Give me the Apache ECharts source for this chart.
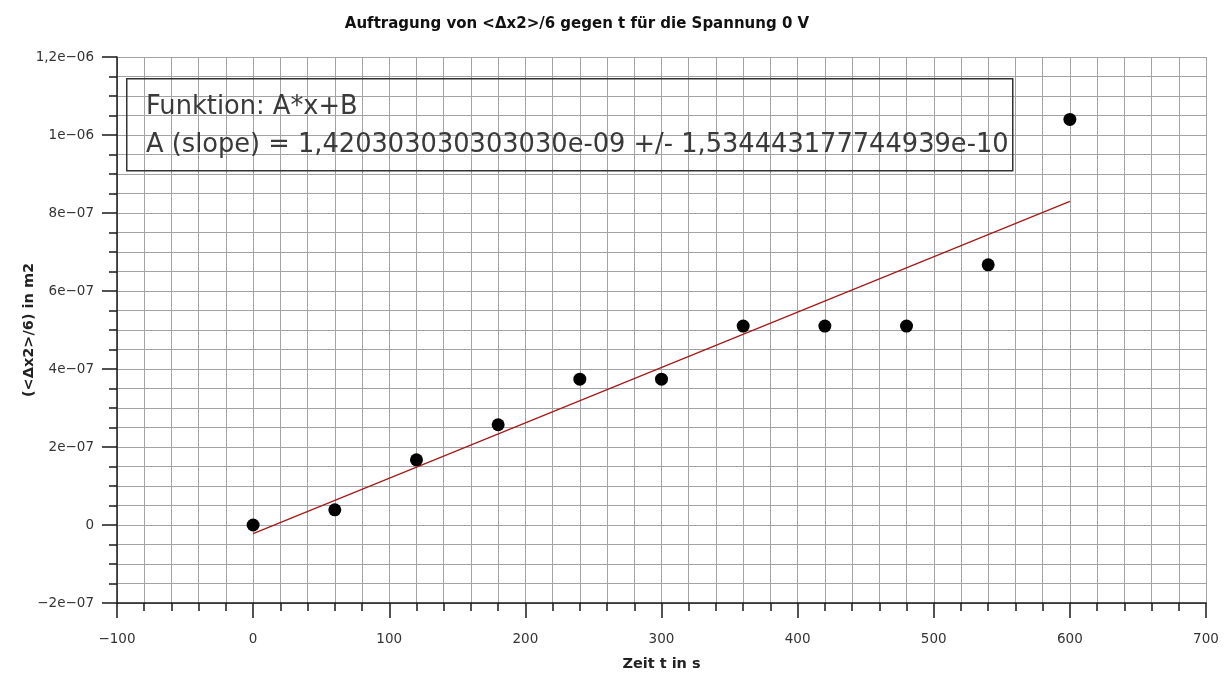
<!DOCTYPE html>
<html>
<head>
<meta charset="utf-8">
<script src="https://cdn.jsdelivr.net/npm/echarts@6/dist/echarts.min.js"></script>
<style>html,body{margin:0;padding:0;background:#fff}#chart{width:1227px;height:673px}</style>
</head>
<body>
<div id="chart"></div>
<script>
// ---- data ----
var timeS = [0, 60, 120, 180, 240, 300, 360, 420, 480, 540, 600];
var msdOver6 = [0, 3.9e-8, 1.67e-7, 2.57e-7, 3.74e-7, 3.74e-7, 5.1e-7, 5.1e-7, 5.1e-7, 6.67e-7, 1.04e-6];
var fitX = [0, 600];
var fitY = [-2.2e-8, 8.3e-7];
var titleText = 'Auftragung von <Δx2>/6 gegen t für die Spannung 0 V';
var xAxisName = 'Zeit t in s';
var yAxisName = '(<Δx2>/6) in m2';
var boxLines = ['Funktion: A*x+B', 'A (slope) = 1,420303030303030e-09 +/- 1,534443177744939e-10'];

var chart = echarts.init(document.getElementById('chart'));

function fmtY(v) {
  if (Math.abs(v) < 1e-20) return '0';
  var s = Number(v.toPrecision(10)).toExponential();
  var parts = s.split('e');
  var mant = parts[0].replace('.', ',').replace('-', '\u2212');
  var ex = parseInt(parts[1], 10);
  var exs = (ex < 0 ? '\u2212' : '+') + (Math.abs(ex) < 10 ? '0' : '') + Math.abs(ex);
  return mant + 'e' + exs;
}
function fmtX(v) { return String(v).replace('-', '\u2212'); }

var gridColor = '#a3a3a3';
var tickColor = '#1a1a1a';
var labelStyle = { color: '#333', fontFamily: 'DejaVu Sans', fontSize: 13.5 };
var nameStyle = { fontFamily: 'DejaVu Sans', fontWeight: 'bold', fontSize: 14.5, color: '#222' };

var option = {
  backgroundColor: '#fff',
  animation: false,
  title: {
    text: titleText,
    left: 572, top: 12, textAlign: 'center',
    textStyle: { fontFamily: 'DejaVu Sans', fontWeight: 'bold', fontSize: 15, color: '#111' }
  },
  grid: { left: 117, right: 21, top: 57, bottom: 70, containLabel: false, outerBoundsMode: 'none' },
  xAxis: {
    type: 'value', min: -100, max: 700, interval: 100,
    name: xAxisName, nameLocation: 'middle', nameGap: 54, nameMoveOverlap: false,
    nameTextStyle: nameStyle,
    axisLine: { show: true, onZero: false, lineStyle: { color: tickColor, width: 1.5 } },
    axisTick: { show: true, inside: false, length: 15, lineStyle: { color: tickColor, width: 1.5 } },
    minorTick: { show: true, splitNumber: 5, length: 8, lineStyle: { color: tickColor, width: 1.5 } },
    splitLine: { show: true, lineStyle: { color: gridColor, width: 1 } },
    minorSplitLine: { show: true, lineStyle: { color: gridColor, width: 1 } },
    axisLabel: Object.assign({ margin: 29, formatter: fmtX }, labelStyle)
  },
  yAxis: {
    type: 'value', min: -2e-7, max: 1.2e-6, interval: 2e-7,
    name: yAxisName, nameLocation: 'middle', nameGap: 80, nameRotate: 90, nameMoveOverlap: false,
    nameTextStyle: nameStyle,
    axisLine: { show: true, onZero: false, lineStyle: { color: tickColor, width: 1.5 } },
    axisTick: { show: true, inside: false, length: 15, lineStyle: { color: tickColor, width: 1.5 } },
    minorTick: { show: true, splitNumber: 4, length: 8, lineStyle: { color: tickColor, width: 1.5 } },
    splitLine: { show: true, lineStyle: { color: gridColor, width: 1 } },
    minorSplitLine: { show: true, lineStyle: { color: gridColor, width: 1 } },
    axisLabel: Object.assign({ margin: 23, formatter: fmtY }, labelStyle)
  },
  series: [
    {
      type: 'line',
      data: fitX.map(function (x, i) { return [x, fitY[i]]; }),
      showSymbol: false, symbol: 'none',
      lineStyle: { color: '#a31a1a', width: 1.3 },
      z: 3
    },
    {
      type: 'scatter',
      data: timeS.map(function (x, i) { return [x, msdOver6[i]]; }),
      symbol: 'circle', symbolSize: 13,
      itemStyle: { color: '#000', opacity: 1 },
      z: 4
    }
  ],
  graphic: [
    {
      type: 'rect', left: 126, top: 78,
      shape: { width: 886, height: 92 },
      style: { fill: 'rgba(255,255,255,0)', stroke: '#333', lineWidth: 1.5 },
      z: 10
    },
    {
      type: 'text', x: 146, y: 107,
      style: { text: boxLines[0], font: '25.7px "DejaVu Sans"', fill: '#3a3a3a', verticalAlign: 'middle', align: 'left' },
      z: 11
    },
    {
      type: 'text', x: 146, y: 145,
      style: { text: boxLines[1], font: '25.7px "DejaVu Sans"', fill: '#3a3a3a', verticalAlign: 'middle', align: 'left' },
      z: 11
    }
  ]
};
chart.setOption(option);
</script>
</body>
</html>
